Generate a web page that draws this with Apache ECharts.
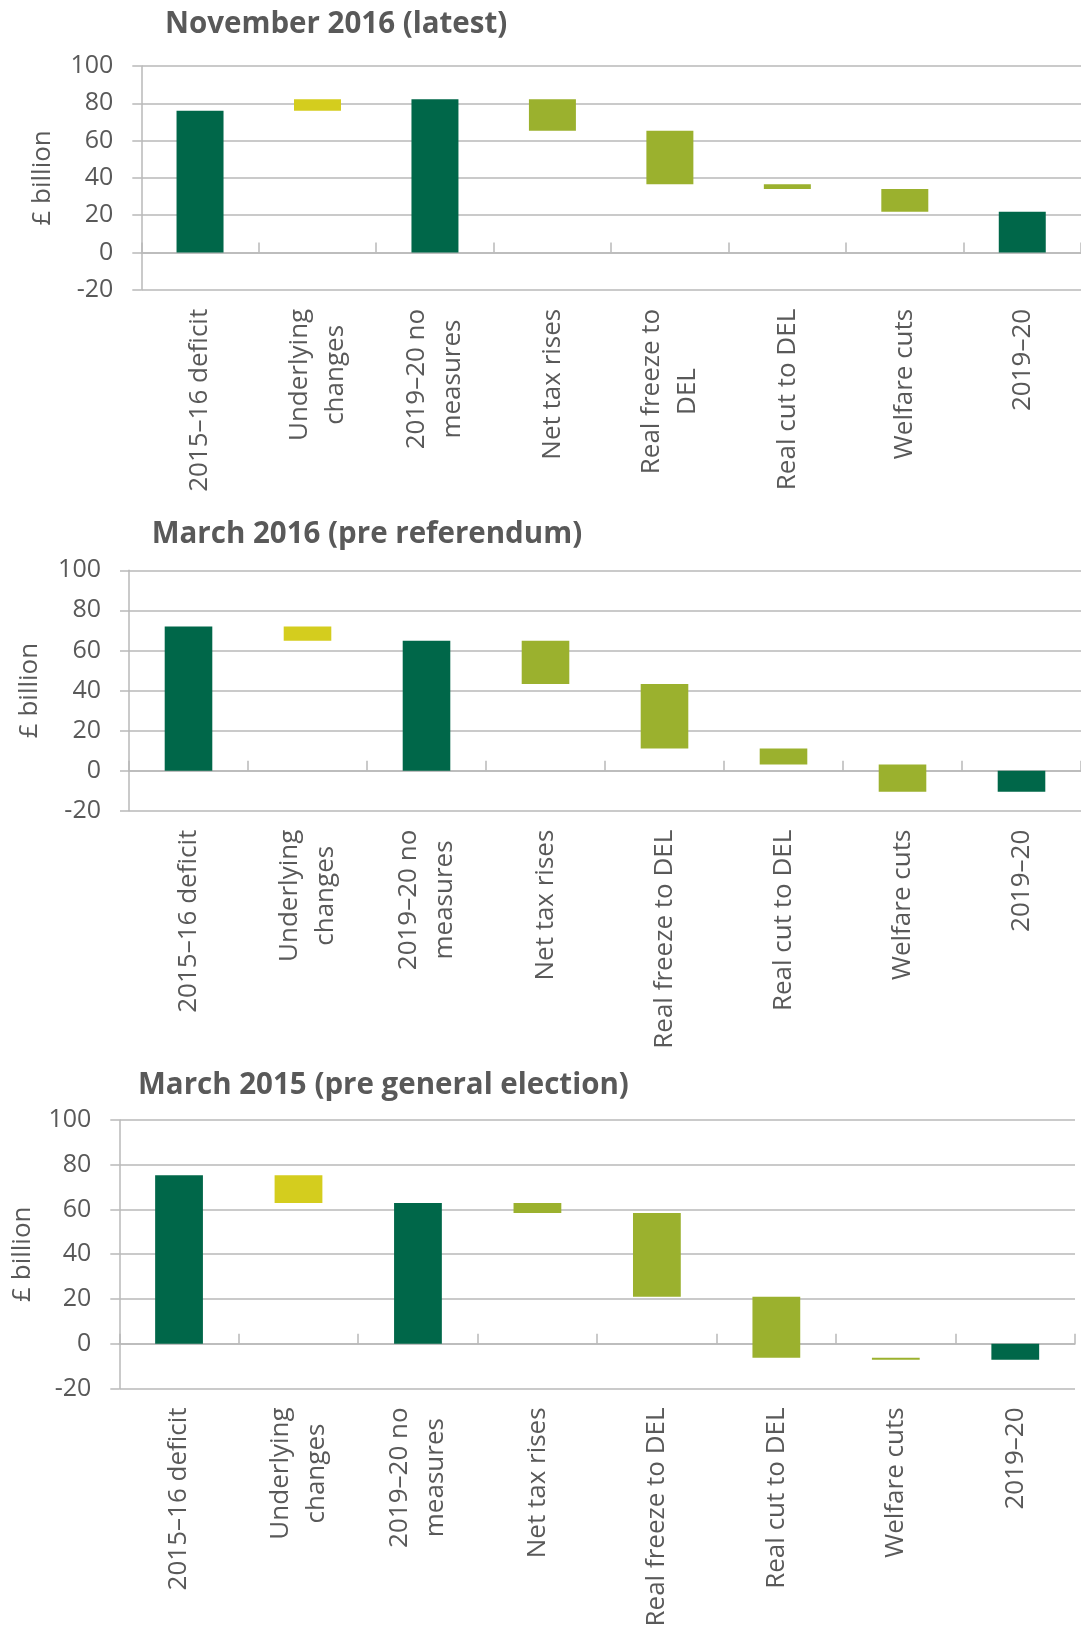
<!DOCTYPE html>
<html>
<head>
<meta charset="utf-8">
<script src="https://cdn.jsdelivr.net/npm/echarts@6/dist/echarts.min.js"></script>
<style>
  html, body { margin: 0; padding: 0; background: #ffffff; }
  #chart { width: 1081px; height: 1634px; }
</style>
</head>
<body>
<div id="chart"></div>
<script>
// ---- Data ----
const panelTitles = ['November 2016 (latest)', 'March 2016 (pre referendum)', 'March 2015 (pre general election)'];

const categoriesNov2016 = ['2015\u201316 deficit', 'Underlying\nchanges', '2019\u201320 no\nmeasures', 'Net tax rises', 'Real freeze to\nDEL', 'Real cut to DEL', 'Welfare cuts', '2019\u201320'];
const categoriesMar = ['2015\u201316 deficit', 'Underlying\nchanges', '2019\u201320 no\nmeasures', 'Net tax rises', 'Real freeze to DEL', 'Real cut to DEL', 'Welfare cuts', '2019\u201320'];

// step kind: 'total' bars go from 0 to level; 'up'/'down' bars go from previous level to this level
const stepKinds = ['total', 'up', 'total', 'down', 'down', 'down', 'down', 'total'];

// running level (£ billion) after each step
const levelsNov2016 = [76, 82.2, 82.2, 65.3, 36.6, 34.1, 21.8, 21.8];
const levelsMar2016 = [72, 64.8, 64.8, 43.2, 11, 3, -10.6, -10.6];
const levelsMar2015 = [75.3, 62.9, 62.9, 58.4, 21, -6.3, -7.2, -7.2];

const yTickMin = -20, yTickMax = 100, yTickStep = 20;

// ---- Styling ----
const colorTotal = '#006749';
const colorUnderlying = '#D4CD1E';
const colorChange = '#9BB12E';
const textGray = '#595959';
const gridGray = '#b9b9b9';

const panels = [
  { title: panelTitles[0], cats: categoriesNov2016, levels: levelsNov2016, left: 141.3, right: -3.5, top: 66, height: 223.8, titleLeft: 165, titleMid: 24.5, nameGap: 86 },
  { title: panelTitles[1], cats: categoriesMar, levels: levelsMar2016, left: 129, right: -3.7, top: 570.3, height: 240.4, titleLeft: 151.7, titleMid: 535, nameGap: 86 },
  { title: panelTitles[2], cats: categoriesMar, levels: levelsMar2015, left: 119.3, right: 6, top: 1120, height: 268.4, titleLeft: 138, titleMid: 1085.5, nameGap: 84 }
];

function buildBars(levels) {
  return levels.map((lv, i) => {
    const kind = stepKinds[i];
    let lo, hi, c;
    if (kind === 'total') { lo = Math.min(0, lv); hi = Math.max(0, lv); c = 0; }
    else { const prev = levels[i - 1]; lo = Math.min(prev, lv); hi = Math.max(prev, lv); c = (i === 1) ? 1 : 2; }
    return [i, lo, hi, c];
  });
}
const barColors = [colorTotal, colorUnderlying, colorChange];

const chart = echarts.init(document.getElementById('chart'), null, { renderer: 'canvas' });

const option = {
  backgroundColor: '#ffffff',
  animation: false,
  title: panels.map(p => ({
    text: p.title,
    left: p.titleLeft,
    top: p.titleMid - 15,
    padding: 0,
    textStyle: { fontFamily: 'Open Sans', fontWeight: 'bold', fontSize: 29.5, color: textGray }
  })),
  grid: panels.map(p => ({ left: p.left, right: p.right, top: p.top, height: p.height, containLabel: false })),
  xAxis: [],
  yAxis: [],
  series: []
};

panels.forEach((p, gi) => {
  // label axis at bottom of plot
  option.xAxis.push({
    type: 'category', gridIndex: gi, data: p.cats,
    axisLine: { show: false, onZero: false },
    axisTick: { show: false },
    splitLine: { show: false },
    axisLabel: {
      interval: 0, rotate: 90, margin: 19,
      color: textGray, fontFamily: 'Open Sans', fontSize: 26, lineHeight: 36,
      formatter: v => v.split('\n').map(s => '{c|' + s + '}').join('\n'),
      rich: { c: { align: 'center', color: textGray, fontFamily: 'Open Sans', fontSize: 26, lineHeight: 36 } }
    }
  });
  // axis line & ticks on the zero line
  option.xAxis.push({
    type: 'category', gridIndex: gi, data: p.cats,
    axisLine: { show: true, onZero: true, lineStyle: { color: gridGray, width: 1.5 } },
    axisTick: { show: true, interval: 0, length: 10, inside: false, lineStyle: { color: gridGray, width: 1.5 } },
    axisLabel: { show: false, interval: 0 },
    splitLine: { show: false }
  });
  option.yAxis.push({
    type: 'value', gridIndex: gi, min: yTickMin, max: yTickMax, interval: yTickStep,
    name: '\u00a3 billion', nameLocation: 'middle', nameGap: p.nameGap,
    nameTextStyle: { color: textGray, fontFamily: 'Open Sans', fontSize: 26 },
    axisLine: { show: true, lineStyle: { color: gridGray, width: 1.5 } },
    axisTick: { show: true, length: 9, lineStyle: { color: gridGray, width: 1.5 } },
    splitLine: { show: true, lineStyle: { color: gridGray, width: 1.5 } },
    axisLabel: { margin: 28, color: textGray, fontFamily: 'Open Sans', fontSize: 25 }
  });
  option.series.push({
    type: 'custom',
    xAxisIndex: gi * 2,
    yAxisIndex: gi,
    encode: { x: 0, y: [1, 2] },
    data: buildBars(p.levels),
    renderItem: function (params, api) {
      const idx = api.value(0);
      const top = api.coord([idx, api.value(2)]);
      const bot = api.coord([idx, api.value(1)]);
      const w = api.size([1, 0])[0] * 0.4;
      return {
        type: 'rect',
        shape: { x: top[0] - w / 2, y: top[1], width: w, height: bot[1] - top[1] },
        style: { fill: barColors[api.value(3)] }
      };
    },
    z: 5
  });
});

chart.setOption(option);
</script>
</body>
</html>
